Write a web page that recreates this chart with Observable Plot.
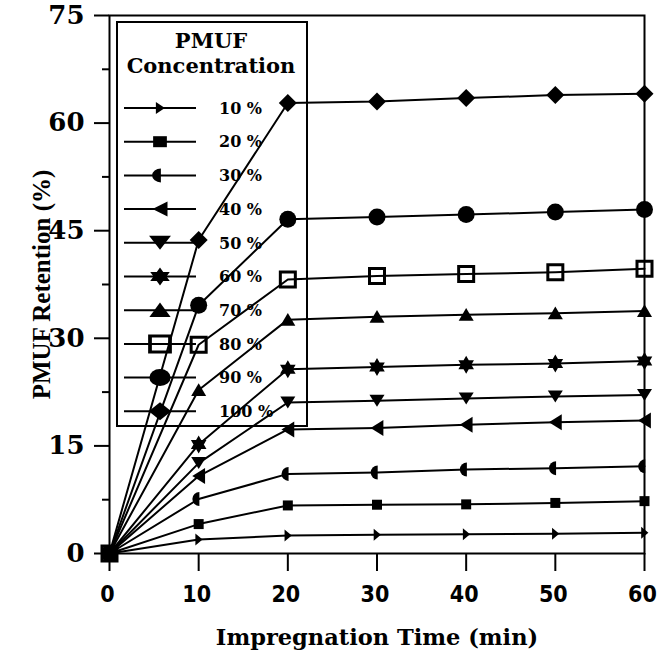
<!DOCTYPE html>
<html><head><meta charset="utf-8">
<script src="https://cdn.jsdelivr.net/npm/d3@7"></script>
<script src="https://cdn.jsdelivr.net/npm/@observablehq/plot@0.6"></script>
<style>
html,body{margin:0;padding:0;background:#fff;}
g[aria-label="x-axis tick label"] text { font-stretch: condensed; }
</style>
</head><body><div id="chart"></div>
<script>
// ---- data ----
const times = [0, 10, 20, 30, 40, 50, 60];
const seriesNames = ["10 %", "20 %", "30 %", "40 %", "50 %", "60 %", "70 %", "80 %", "90 %", "100 %"];
const v10  = [0, 1.95, 2.5, 2.6, 2.7, 2.75, 2.9];
const v20  = [0, 4.1, 6.7, 6.8, 6.85, 7.05, 7.3];
const v30  = [0, 7.6, 11.1, 11.3, 11.7, 11.9, 12.15];
const v40  = [0, 10.8, 17.3, 17.5, 17.95, 18.3, 18.55];
const v50  = [0, 12.6, 21.05, 21.3, 21.6, 21.9, 22.1];
const v60  = [0, 15.2, 25.7, 26.0, 26.3, 26.5, 26.85];
const v70  = [0, 22.8, 32.6, 33.0, 33.3, 33.5, 33.8];
const v80  = [0, 29.1, 38.2, 38.7, 38.96, 39.2, 39.7];
const v90  = [0, 34.6, 46.6, 46.9, 47.25, 47.6, 47.95];
const v100 = [0, 43.7, 62.8, 63.0, 63.5, 63.9, 64.1];
const seriesValues = [v10, v20, v30, v40, v50, v60, v70, v80, v90, v100];
const xTicks = [0, 10, 20, 30, 40, 50, 60];
const yTicks = [0, 15, 30, 45, 60, 75];
const yMinorTicks = [7.5, 22.5, 37.5, 52.5, 67.5];
const legendTitle = ["PMUF", "Concentration"];
const xTitle = "Impregnation Time (min)";
const yTitle = "PMUF Retention (%)";

// ---- symbols ----
function sym(fn) { return { draw(ctx, size) { const r = Math.sqrt(size / Math.PI); fn(ctx, r); } }; }
function poly(ctx, pts) { ctx.moveTo(pts[0][0], pts[0][1]); for (let k = 1; k < pts.length; k++) ctx.lineTo(pts[k][0], pts[k][1]); ctx.closePath(); }
const triRight = sym((c, r) => poly(c, [[-0.55 * r, -r], [0.65 * r, 0], [-0.55 * r, r]]));
const squareS  = sym((c, r) => poly(c, [[-r, -r], [r, -r], [r, r], [-r, r]]));
const halfLeft = sym((c, r) => { c.moveTo(0.1 * r, -r); c.arc(0.1 * r, 0, r, -Math.PI / 2, Math.PI / 2, true); c.closePath(); });
const triLeft  = sym((c, r) => poly(c, [[-0.8 * r, 0], [0.8 * r, -r], [0.8 * r, r]]));
const triDown  = sym((c, r) => poly(c, [[-r, -0.8 * r], [r, -0.8 * r], [0, 0.8 * r]]));
const hexagram = sym((c, r) => { const k = Math.cos(Math.PI / 6);
  poly(c, [[0, -r], [r * k, r / 2], [-r * k, r / 2]]);
  poly(c, [[0, r], [-r * k, -r / 2], [r * k, -r / 2]]); });
const triUp    = sym((c, r) => poly(c, [[0, -0.9 * r], [r, 0.8 * r], [-r, 0.8 * r]]));
const circleS  = sym((c, r) => { c.moveTo(r, 0); c.arc(0, 0, r, 0, 2 * Math.PI); c.closePath(); });
const diamondS = sym((c, r) => poly(c, [[0, -r], [r, 0], [0, r], [-r, 0]]));

const symbols = [triRight, squareS, halfLeft, triLeft, triDown, hexagram, triUp, squareS, circleS, diamondS];
const dataR   = [6, 5, 7, 8, 7.5, 9, 7.5, 7.5, 8.5, 9];
const legR    = [6, 5.5, 7, 7.5, 8.75, 9, 8.5, 8, 8.5, 9];
const hollow  = [false, false, false, false, false, false, false, true, false, false];

const rows = seriesValues.flatMap((vals, i) => vals.map((v, j) => ({series: seriesNames[i], time: times[j], value: v})));

const serifBold = "DejaVu Serif";

function legendMark(index, scales, values, dims) {
  const g = d3.create("svg:g").attr("text-anchor", "start");
  const x0 = dims.marginLeft + 8, y0 = dims.marginTop + 7, w = 190, h = 404;
  g.append("rect").attr("x", x0).attr("y", y0).attr("width", w).attr("height", h)
    .attr("fill", "white").attr("stroke", "black").attr("stroke-width", 2);
  const cx = x0 + w / 2 - 1;
  legendTitle.forEach((t, k) => {
    g.append("text").attr("x", cx).attr("y", y0 + 26 + k * 25).attr("text-anchor", "middle")
      .attr("font-family", serifBold).attr("font-weight", "bold").attr("font-size", 21).text(t);
  });
  seriesNames.forEach((name, i) => {
    const y = y0 + 86 + i * 33.7;
    g.append("line").attr("x1", x0 + 7).attr("x2", x0 + 79).attr("y1", y).attr("y2", y)
      .attr("stroke", "black").attr("stroke-width", 2);
    const p = d3.path();
    symbols[i].draw(p, legR[i] * legR[i] * Math.PI);
    g.append("path").attr("d", p.toString())
      .attr("transform", `translate(${x0 + 43},${y}) scale(1.25,1)`)
      .attr("fill", hollow[i] ? "none" : "black")
      .attr("stroke", hollow[i] ? "black" : "none")
      .attr("stroke-width", hollow[i] ? 3 : 0);
    g.append("text").attr("x", x0 + 102).attr("y", y).attr("dy", "0.36em").attr("text-anchor", "start")
      .attr("font-family", serifBold).attr("font-weight", "bold").attr("font-size", 16).text(name);
  });
  return g.node();
}

const chart = Plot.plot({
  width: 658,
  height: 659,
  marginLeft: 109,
  marginRight: 14,
  marginTop: 15,
  marginBottom: 106,
  style: {background: "white", color: "black"},
  x: {domain: [0, 60]},
  y: {domain: [0, 75]},
  marks: [
    legendMark,
    Plot.frame({stroke: "black", strokeWidth: 2}),
    Plot.axisY({ticks: yMinorTicks, tickSize: 7, tickFormat: () => "", strokeWidth: 2, label: null}),
    Plot.axisY({ticks: yTicks, tickSize: 15, tickPadding: 10, fontSize: 26, fontFamily: serifBold, fontWeight: "bold", strokeWidth: 2, label: null}),
    Plot.axisX({ticks: xTicks, tickSize: 18, tickFormat: () => "", strokeWidth: 2, label: null}),
    Plot.axisX({ticks: xTicks, tickSize: 0, tickPadding: 32, dx: -2, fontSize: 23, fontFamily: "'DejaVu Sans Condensed', 'DejaVu Sans'", fontWeight: "bold", label: null}),
    Plot.line(rows, {x: "time", y: "value", z: "series", stroke: "black", strokeWidth: 2}),
    ...seriesNames.map((name, i) => Plot.dot(rows.filter(d => d.series === name), {
      x: "time", y: "value", symbol: symbols[i], r: dataR[i],
      fill: hollow[i] ? "none" : "black",
      stroke: hollow[i] ? "black" : "none",
      strokeWidth: hollow[i] ? 3 : 0
    })),
    Plot.text([xTitle], {text: d => d, frameAnchor: "bottom", dy: 91, fontSize: 22.5, fontFamily: serifBold, fontWeight: "bold", fill: "black"}),
    Plot.text([yTitle], {text: d => d, frameAnchor: "left", textAnchor: "middle", rotate: -90, dx: -68, fontSize: 25, fontFamily: "Liberation Serif", fontWeight: "bold", fill: "black"})
  ]
});
document.getElementById("chart").appendChild(chart);
</script>
</body></html>
